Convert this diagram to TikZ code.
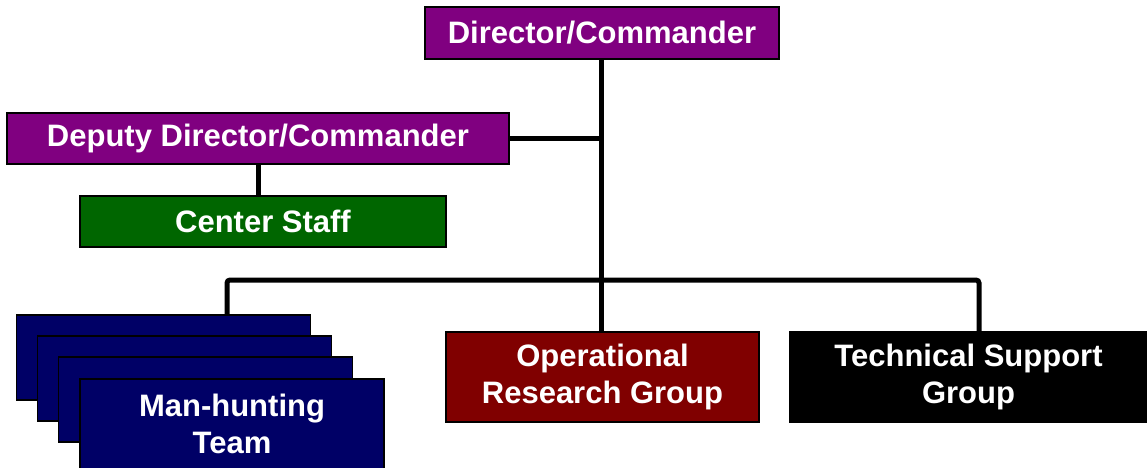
\documentclass[tikz,border=0pt]{standalone}
\usepackage{fontspec}
\setmainfont{Liberation Sans}
\definecolor{cpurple}{HTML}{800080}
\definecolor{cgreen}{HTML}{006600}
\definecolor{cnavy}{HTML}{000066}
\definecolor{cmaroon}{HTML}{800000}
\begin{document}
\begin{tikzpicture}[x=1pt,y=-1pt,
  box/.style={draw=black,line width=1.3pt,rectangle,inner sep=0pt,text=white,
    font=\fontsize{31}{37.5}\selectfont\bfseries,align=center},
  conn/.style={draw=black,line width=5pt}]
\useasboundingbox (0,0) rectangle (1147,467);
\node[box,fill=cpurple,minimum width=354,minimum height=52] (dir) at (602,33) {Director/Commander};
\node[box,fill=cpurple,minimum width=502,minimum height=51] (dep) at (258,138.5) {Deputy Director/Commander};
\node[box,fill=cgreen,minimum width=366,minimum height=51] (cs) at (263,221.5) {Center Staff};
\node[box,fill=cnavy,minimum width=294,minimum height=85] (mh1) at (163.5,357.5) {};
\node[box,fill=cnavy,minimum width=294,minimum height=85] (mh2) at (184.5,378.5) {};
\node[box,fill=cnavy,minimum width=294,minimum height=85] (mh3) at (205.5,399.5) {};
\node[box,fill=cnavy,minimum width=304,minimum height=90] (mh4) at (232,424) {Man-hunting\\Team};
\node[box,fill=cmaroon,minimum width=313,minimum height=90] (ops) at (602.5,377) {Operational\\Research Group};
\node[box,fill=black,minimum width=357,minimum height=90] (tech) at (968.5,377) {Technical Support\\Group};
\coordinate (busL) at (227,280);
\coordinate (busR) at (979,280);
\coordinate (csx) at (258,0);
\draw[conn] (dir.south -| 601,0) -- (ops.north -| 601,0);
\draw[conn] (dep.east) -- (dep.east -| 601,0);
\draw[conn] (dep.south -| csx) -- (cs.north -| csx);
\draw[conn,rounded corners=3pt] (mh1.north -| busL) -- (busL) -- (busR) -- (tech.north -| busR);
\end{tikzpicture}
\end{document}
